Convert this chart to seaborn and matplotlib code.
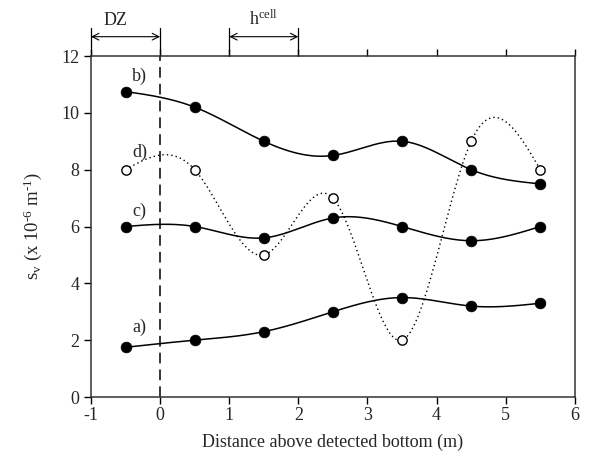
import numpy as np
import pandas as pd
import matplotlib
matplotlib.use("Agg")
import matplotlib.pyplot as plt
import seaborn as sns

x_pos = [-0.5, 0.5, 1.5, 2.5, 3.5, 4.5, 5.5]
a_vals = [1.75, 2.0, 2.3, 3.0, 3.5, 3.2, 3.3]
b_vals = [10.75, 10.2, 9.0, 8.5, 9.0, 8.0, 7.5]
c_vals = [6.0, 6.0, 5.6, 6.3, 6.0, 5.5, 6.0]
d_vals = [8.0, 8.0, 5.0, 7.0, 2.0, 9.0, 8.0]
x_ticks = [-1, 0, 1, 2, 3, 4, 5, 6]
y_ticks = [0, 2, 4, 6, 8, 10, 12]

sns.set_theme(style="ticks")
plt.rcParams['font.family'] = ['Liberation Serif', 'DejaVu Serif']
plt.rcParams['mathtext.fontset'] = 'custom'
plt.rcParams['mathtext.rm'] = 'Liberation Serif'
plt.rcParams['mathtext.it'] = 'Liberation Serif:italic'
plt.rcParams['axes.unicode_minus'] = False


def natural_spline(x, y, n=300):
    x = np.asarray(x, float); y = np.asarray(y, float)
    m = len(x)
    h = np.diff(x)
    A = np.zeros((m, m)); r = np.zeros(m)
    A[0, 0] = 1; A[-1, -1] = 1
    for i in range(1, m - 1):
        A[i, i - 1] = h[i - 1]; A[i, i] = 2 * (h[i - 1] + h[i]); A[i, i + 1] = h[i]
        r[i] = 3 * ((y[i + 1] - y[i]) / h[i] - (y[i] - y[i - 1]) / h[i - 1])
    c = np.linalg.solve(A, r)
    b = np.zeros(m - 1); d = np.zeros(m - 1)
    for i in range(m - 1):
        b[i] = (y[i + 1] - y[i]) / h[i] - h[i] * (2 * c[i] + c[i + 1]) / 3
        d[i] = (c[i + 1] - c[i]) / (3 * h[i])
    xs = np.linspace(x[0], x[-1], n)
    idx = np.clip(np.searchsorted(x, xs) - 1, 0, m - 2)
    t = xs - x[idx]
    ys = y[idx] + b[idx] * t + c[idx] * t ** 2 + d[idx] * t ** 3
    return xs, ys


fig = plt.figure(figsize=(5.89, 4.61), dpi=100)
ax = fig.add_axes([0.1545, 0.1388, 0.8215, 0.7397])

for vals in (a_vals, b_vals, c_vals):
    xs, ys = natural_spline(x_pos, vals)
    ax.plot(xs, ys, color='black', lw=1.1, zorder=2)
xs, ys = natural_spline(x_pos, d_vals)
ax.plot(xs, ys, color='black', lw=1.0, ls=(0, (1, 2.2)), zorder=2)

df = pd.DataFrame({'x': x_pos * 3, 'y': a_vals + b_vals + c_vals})
sns.scatterplot(data=df, x='x', y='y', ax=ax, color='black', s=60,
                edgecolor='black', linewidth=0.5, zorder=3, legend=False)
dd = pd.DataFrame({'x': x_pos, 'y': d_vals})
sns.scatterplot(data=dd, x='x', y='y', ax=ax, facecolor='white', s=45,
                edgecolor='black', linewidth=1.0, zorder=3, legend=False)

ax.axvline(0, color='black', lw=1.1, ls=(0, (7, 4)), zorder=1)

ax.set_xlim(-1, 6)
ax.set_ylim(0, 12)
ax.set_xticks(x_ticks)
ax.set_yticks(y_ticks)
ax.tick_params(axis='both', labelsize=13, direction='out', length=5, width=1, color='black')
ax.tick_params(axis='x', top=True, pad=2)
for s in ax.spines.values():
    s.set_linewidth(1.1)
    s.set_color('#333333')
    s.set_visible(True)

ax.set_xlabel('Distance above detected bottom (m)', fontsize=13, labelpad=7)
ax.set_ylabel(r'$\mathregular{s_v}$ (x 10$^{\text{-6}}$ m$^{\text{-1}}$)', fontsize=13.5, labelpad=12)

for lbl, yy in (('b)', 11.3), ('d)', 8.6), ('c)', 6.55), ('a)', 2.45)):
    ax.text(-0.3, yy, lbl, fontsize=13, ha='center', va='center')

# brackets above the axes
for x0, x1 in ((-1, 0), (1, 2)):
    for xv in (x0, x1):
        ax.plot([xv, xv], [12, 13.0], color='black', lw=0.9, clip_on=False)
    ax.annotate('', xy=(x1, 12.68), xytext=(x0, 12.68),
                arrowprops=dict(arrowstyle='<->', lw=0.8, color='black',
                                shrinkA=0, shrinkB=0, mutation_scale=12),
                annotation_clip=False)
ax.text(-0.65, 13.25, 'DZ', fontsize=13, ha='center', va='center', clip_on=False)
ax.text(1.5, 13.3, r'h$^{\mathregular{cell}}$', fontsize=13, ha='center', va='center', clip_on=False)

fig.savefig('out.png', dpi=100)
